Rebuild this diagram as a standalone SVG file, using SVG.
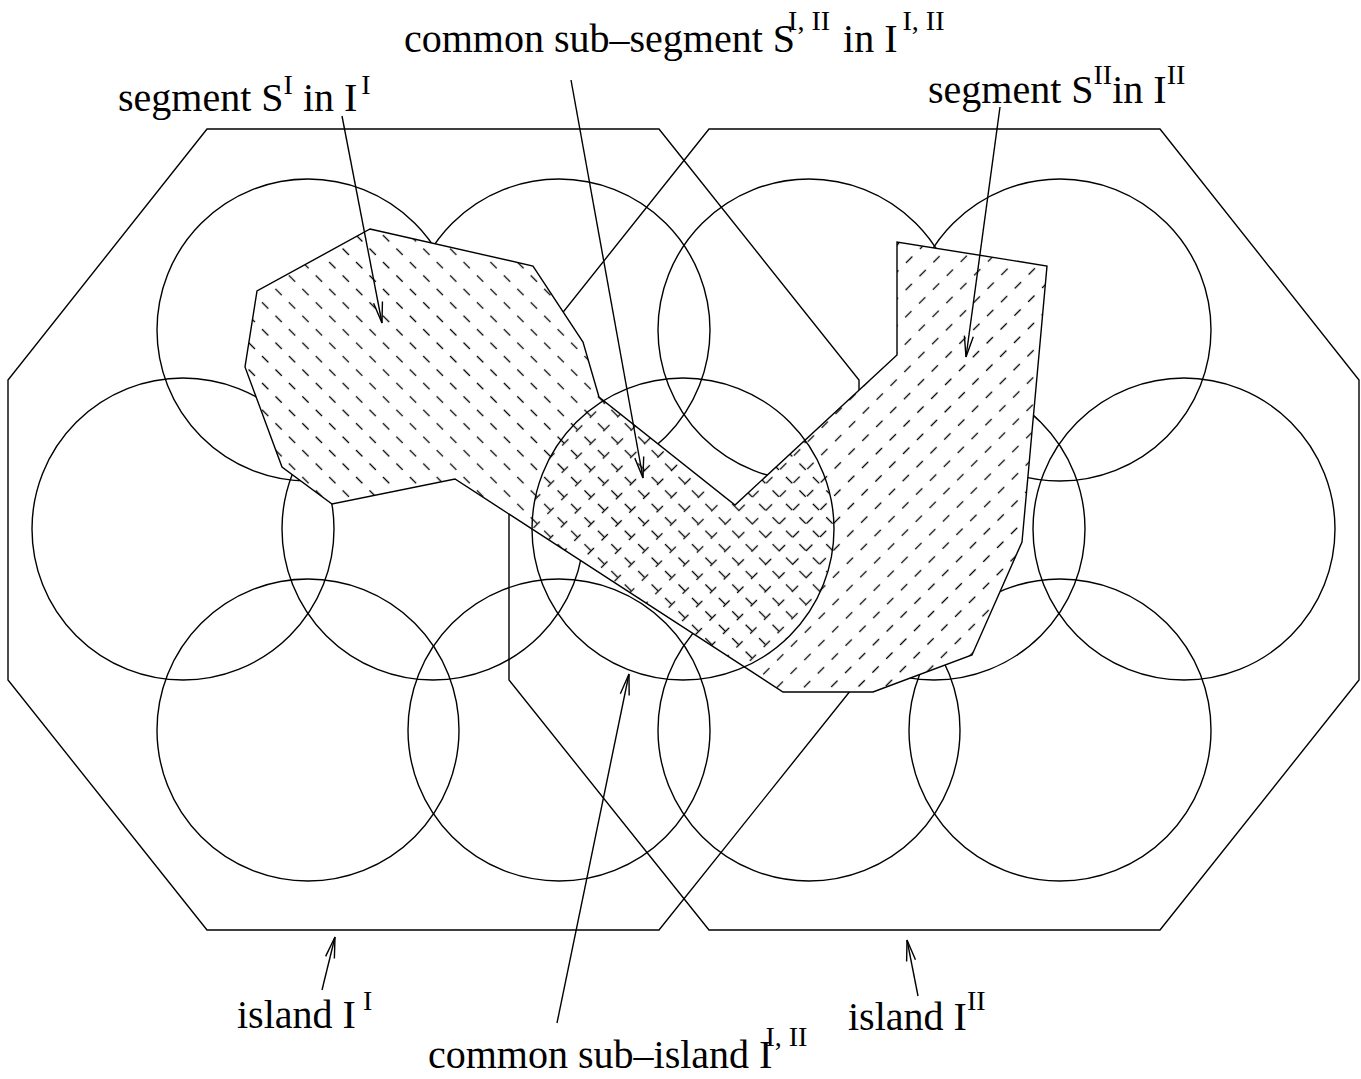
<svg xmlns="http://www.w3.org/2000/svg" width="1361" height="1079" viewBox="0 0 1361 1079">
<style>
.ln{fill:none;stroke:#000;stroke-width:1.4}
.lbl{font-family:"Liberation Serif","Times New Roman",serif;font-size:40px;fill:#000}
.sup{font-size:28px}
.ar{fill:none;stroke:#000;stroke-width:1.4;marker-end:url(#ah)}
</style>
<defs>
<marker id="ah" markerUnits="userSpaceOnUse" viewBox="-22 -7 24 14" markerWidth="24" markerHeight="14" refX="0" refY="0" orient="auto">
<path d="M-21,-4.5 L0,0 L-21,4.5" fill="none" stroke="#000" stroke-width="1.4"/>
</marker>
<pattern id="hI" width="19" height="19" patternUnits="userSpaceOnUse" patternTransform="rotate(45)">
<line x1="0" y1="9.5" x2="9" y2="9.5" stroke="#000" stroke-width="1.3"/>
</pattern>
<pattern id="hII" width="19.6" height="19" patternUnits="userSpaceOnUse" patternTransform="rotate(-45) translate(4,0)">
<line x1="0" y1="9.5" x2="9" y2="9.5" stroke="#000" stroke-width="1.3"/>
</pattern>
<clipPath id="cpP"><polygon points="370,229 533,266 583,342 599,397 735,505 897,355 897,242 1047,266 1022,542 972,655 873,692 783,692 455,479 332,504 282,467 245,367 257,291"/></clipPath>
<clipPath id="cpL"><rect x="0" y="0" width="683" height="1079"/><circle cx="683" cy="529" r="151"/></clipPath>
<clipPath id="cpR"><rect x="683" y="0" width="678" height="1079"/><circle cx="683" cy="529" r="151"/></clipPath>
</defs>
<rect width="1361" height="1079" fill="#fff"/>
<g id="island-I">
<polygon class="ln" points="207,129 659,129 859,380 859,680 659,930 207,930 8,680 8,380"/>
</g>
<g id="island-II">
<polygon class="ln" points="709,129 1160,129 1359,380 1359,680 1160,930 709,930 509,680 509,380"/>
</g>
<g id="cells" class="ln">
<circle cx="308" cy="330" r="151"/>
<circle cx="559" cy="330" r="151"/>
<circle cx="183" cy="529" r="151"/>
<circle cx="433" cy="529" r="151"/>
<circle cx="308" cy="730" r="151"/>
<circle cx="559" cy="730" r="151"/>
<circle cx="809" cy="330" r="151"/>
<circle cx="1060" cy="330" r="151"/>
<circle cx="934" cy="529" r="151"/>
<circle cx="1184" cy="529" r="151"/>
<circle cx="809" cy="730" r="151"/>
<circle cx="1060" cy="730" r="151"/>
</g>
<g id="segments">
<polygon points="370,229 533,266 583,342 599,397 735,505 897,355 897,242 1047,266 1022,542 972,655 873,692 783,692 455,479 332,504 282,467 245,367 257,291" fill="#fff" stroke="none"/>
<g clip-path="url(#cpP)">
<rect x="0" y="0" width="1361" height="1079" fill="url(#hI)" clip-path="url(#cpL)"/>
<rect x="0" y="0" width="1361" height="1079" fill="url(#hII)" clip-path="url(#cpR)"/>
</g>
<polygon class="ln" points="370,229 533,266 583,342 599,397 735,505 897,355 897,242 1047,266 1022,542 972,655 873,692 783,692 455,479 332,504 282,467 245,367 257,291"/>
</g>
<g id="common-sub-island">
<circle class="ln" cx="683" cy="529" r="151"/>
</g>
<g id="connectors">
<line class="ar" x1="342" y1="116" x2="382" y2="323"/>
<line class="ar" x1="571" y1="80" x2="643" y2="478"/>
<line class="ar" x1="1000" y1="107" x2="966" y2="357"/>
<line class="ar" x1="557" y1="1023" x2="629" y2="674"/>
<line class="ar" x1="322" y1="990" x2="335" y2="937"/>
<line class="ar" x1="918" y1="996" x2="907" y2="940"/>
</g>
<g id="labels">
<text class="lbl" x="404" y="52">common sub–segment S<tspan class="sup" dx="-7" dy="-22">I, II</tspan><tspan dx="3" dy="22"> in I</tspan><tspan class="sup" dx="5" dy="-22">I, II</tspan></text>
<text class="lbl" x="118" y="111">segment S<tspan class="sup" dy="-17">I</tspan><tspan dy="17"> in I</tspan><tspan class="sup" dx="4" dy="-17">I</tspan></text>
<text class="lbl" x="928" y="103">segment S<tspan class="sup" dy="-19">II</tspan><tspan dy="19">in I</tspan><tspan class="sup" dy="-19">II</tspan></text>
<text class="lbl" x="237" y="1028">island I<tspan class="sup" dx="7" dy="-18">I</tspan></text>
<text class="lbl" x="848" y="1030">island I<tspan class="sup" dy="-20">II</tspan></text>
<text class="lbl" x="428" y="1068">common sub–island I<tspan class="sup" dx="-7" dy="-22">I, II</tspan></text>
</g>
</svg>
